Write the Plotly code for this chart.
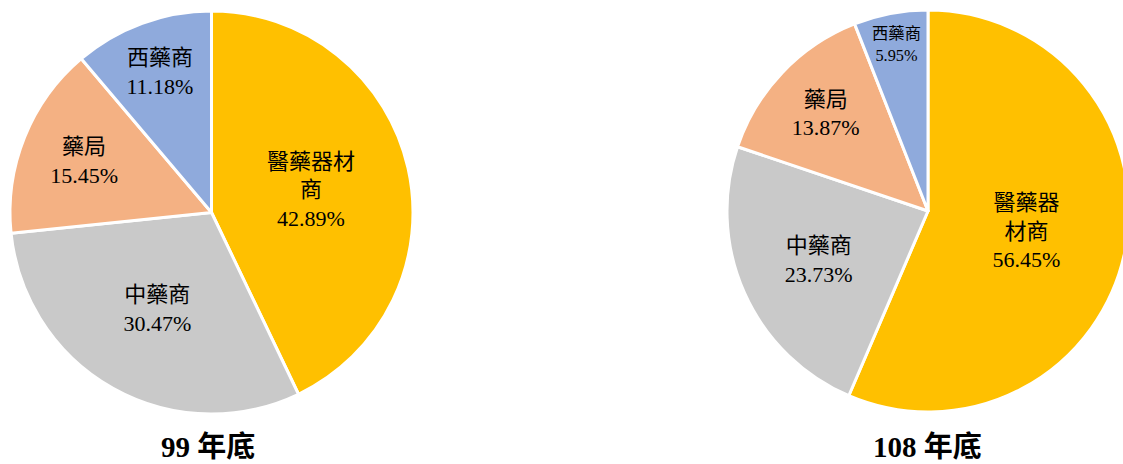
import plotly.graph_objects as go

categories = ["醫藥器材商", "中藥商", "藥局", "西藥商"]
values_99 = [42.89, 30.47, 15.45, 11.18]
values_108 = [56.45, 23.73, 13.87, 5.95]
text_99 = ["醫藥器材<br>商<br>42.89%", "中藥商<br>30.47%", "藥局<br>15.45%", "西藥商<br>11.18%"]
text_108 = ["醫藥器<br>材商<br>56.45%", "中藥商<br>23.73%", "藥局<br>13.87%", "西藥商<br>5.95%"]
titles = ["99 年底", "108 年底"]
colors = ["#FFC000", "#C9C9C9", "#F4B183", "#8FAADC"]

W, H = 1130, 464  # slightly wider than the window; right edge clipped like the reference
font_family = "Liberation Serif, Noto Sans CJK TC, serif"

def dom(x0, x1, y0, y1):
    # screen pixel box -> paper domain
    return dict(x=[max(0, x0 / W), min(1, x1 / W)],
                y=[(H - y1) / H, (H - y0) / H])

fig = go.Figure()

def add_pie(vals, txt, d):
    fig.add_trace(go.Pie(
        labels=categories, values=vals, text=txt,
        texttemplate="%{text}", textposition="inside",
        insidetextorientation="horizontal",
        sort=False, direction="clockwise", rotation=0,
        marker=dict(colors=colors, line=dict(color="white", width=3)),
        textfont=dict(family=font_family, size=22, color="black"),
        domain=d, showlegend=False, hoverinfo="label+percent",
    ))

add_pie(values_99, text_99, dom(10, 413, 11, 414))
add_pie(values_108, text_108, dom(727, 1129, 10, 412))

for t, sx in zip(titles, [208, 927]):
    fig.add_annotation(x=sx / W, y=(H - 447) / H,
                       xref="paper", yref="paper", xanchor="center", yanchor="middle",
                       text="<b>" + t + "</b>", showarrow=False,
                       font=dict(family=font_family, size=29, color="black"))

fig.update_layout(width=W, height=H, margin=dict(l=0, r=0, t=0, b=0),
                  paper_bgcolor="white", plot_bgcolor="white")
fig.write_html("out.html", config={"displayModeBar": False},
               post_script="document.body.style.margin='0';document.body.style.overflow='hidden';")
